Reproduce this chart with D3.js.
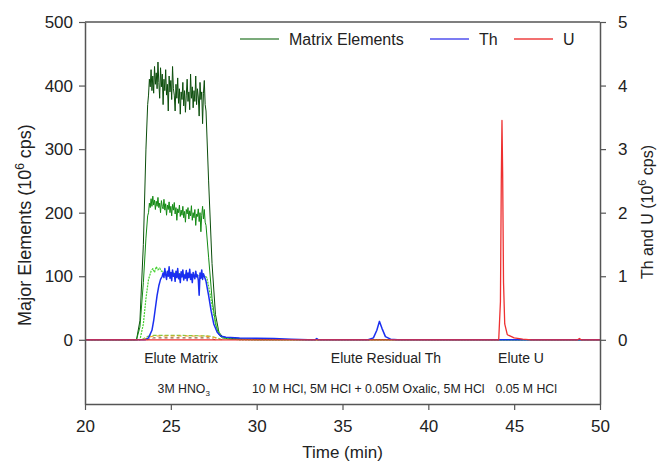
<!DOCTYPE html>
<html>
<head>
<meta charset="utf-8">
<script src="https://cdn.jsdelivr.net/npm/d3@7"></script>
<style>
  body { margin: 0; background: #fff; }
  svg { font-family: "Liberation Sans", Arial, sans-serif; }
</style>
</head>
<body>
<svg class="chart"></svg>
<script>
const width = 657,
  height = 461;

// plateau sample times (min)
const plateauTimes = [23.70, 23.75, 23.80, 23.85, 23.90, 23.95, 24.00, 24.05, 24.10, 24.15,
  24.20, 24.25, 24.30, 24.35, 24.40, 24.45, 24.50, 24.55, 24.60, 24.65, 24.70, 24.75,
  24.80, 24.85, 24.90, 24.95, 25.00, 25.05, 25.10, 25.15, 25.20, 25.25, 25.30, 25.35,
  25.40, 25.45, 25.50, 25.55, 25.60, 25.65, 25.70, 25.75, 25.80, 25.85, 25.90, 25.95,
  26.00, 26.05, 26.10, 26.15, 26.20, 26.25, 26.30, 26.35, 26.40, 26.45, 26.50, 26.55,
  26.60, 26.65, 26.70, 26.75, 26.80, 26.85, 26.90, 26.95, 27.00];

// Matrix element 1 (dark green), left axis, 10^6 cps
const matrixHighRise = [[20, 0], [23.0, 0], [23.2, 30], [23.4, 150], [23.55, 300], [23.65, 370]];
const matrixHighPlateau = [385, 410, 398, 425, 392, 415, 388, 430, 402, 420, 395, 437, 405, 380,
  428, 398, 418, 370, 410, 392, 425, 385, 402, 360, 415, 390, 408, 378, 430, 395, 385, 360,
  402, 380, 412, 372, 395, 355, 390, 378, 405, 368, 392, 358, 385, 410, 375, 390, 362, 418,
  380, 398, 365, 392, 375, 415, 370, 395, 382, 352, 405, 378, 390, 340, 388, 408, 370];
const matrixHighFall = [[27.05, 360], [27.2, 250], [27.4, 120], [27.6, 40], [27.8, 12], [28.0, 5],
  [28.5, 2], [30, 0.5], [50, 0]];

// Matrix element 2 (green)
const matrixMidRise = [[20, 0], [23.0, 0], [23.2, 20], [23.4, 90], [23.55, 160], [23.65, 195]];
const matrixMidPlateau = [200, 215, 208, 222, 210, 226, 212, 220, 205, 218, 210, 224, 208, 215,
  200, 219, 210, 206, 221, 204, 214, 196, 212, 205, 217, 200, 210, 195, 213, 204, 216, 198,
  208, 188, 206, 200, 212, 194, 204, 196, 210, 192, 202, 185, 205, 198, 208, 190, 203, 195,
  211, 188, 200, 192, 205, 180, 198, 194, 206, 186, 200, 170, 196, 210, 190, 205, 185];
const matrixMidFall = [[27.05, 180], [27.2, 130], [27.4, 65], [27.6, 25], [27.8, 8], [28.0, 3],
  [28.5, 1], [30, 0], [50, 0]];

// Matrix element 3 (light green, dotted)
const matrixLow = [[20, 0], [23.2, 0], [23.4, 25], [23.55, 65], [23.7, 95], [23.85, 108],
  [23.95, 112], [24.05, 106], [24.15, 115], [24.25, 110], [24.35, 113], [24.45, 108],
  [24.8, 106], [25.5, 104], [26.2, 102], [27.0, 100], [27.1, 98], [27.3, 70], [27.5, 40],
  [27.7, 18], [27.9, 6], [28.2, 2], [29, 0], [50, 0]];

// minor matrix traces near baseline (dashed)
const minorYellow = [[23.4, 0], [23.7, 4], [24.0, 6], [25.5, 6], [27.0, 6], [27.5, 4], [27.9, 0]];
const minorGreen = [[23.3, 0], [23.6, 5], [24.0, 7], [25.5, 7], [27.2, 6], [27.7, 3], [28.0, 0]];
const minorBrown = [[23.6, 0], [24.0, 3], [25.5, 3], [27.2, 3], [27.6, 0]];

// Th (blue), right axis, 10^6 cps
const thRise = [[20, 0], [23.5, 0], [23.7, 0.03], [23.9, 0.15], [24.0, 0.3], [24.1, 0.5],
  [24.2, 0.7], [24.3, 0.85], [24.4, 0.95], [24.5, 1.0]];
const thPlateauTimes = plateauTimes.filter(t => t > 24.5 && t < 26.99);
const thPlateau = [1.05, 0.98, 1.12, 1.02, 0.95, 1.08, 1.0, 1.15, 0.97, 1.06, 0.93, 1.1, 1.0,
  1.04, 0.92, 1.08, 0.98, 1.12, 0.96, 1.03, 0.9, 1.07, 0.99, 1.1, 0.94, 1.02, 0.97, 1.09,
  0.93, 1.05, 0.98, 1.11, 0.95, 1.03, 0.9, 1.06, 1.0, 0.96, 1.08, 0.99, 1.02, 0.94, 0.7,
  1.05, 0.97, 1.1, 0.95, 1.04, 1.0];
const thTail = [[27.05, 0.92], [27.2, 0.7], [27.35, 0.45], [27.5, 0.25], [27.7, 0.12],
  [27.9, 0.06], [28.2, 0.04], [29, 0.03], [30, 0.025], [31, 0.02], [32, 0.01], [33, 0],
  [33.4, 0], [33.5, 0.02], [33.6, 0], [36.5, 0], [36.8, 0.03], [37.0, 0.15], [37.15, 0.29],
  [37.3, 0.18], [37.5, 0.05], [37.8, 0.01], [38.2, 0], [50, 0]];

// U (red), right axis
const uTrace = [[20, 0], [44.1, 0], [44.2, 0.6], [44.25, 2.5], [44.29, 3.45], [44.33, 2.6],
  [44.38, 0.9], [44.45, 0.25], [44.6, 0.08], [45, 0.03], [45.5, 0.01], [46, 0], [48.7, 0],
  [48.8, 0.02], [48.9, 0], [50, 0]];

const xTicks = [20, 25, 30, 35, 40, 45, 50];
const leftTicks = [0, 100, 200, 300, 400, 500];
const rightTicks = [0, 1, 2, 3, 4, 5];

const legendItems = [
  { label: "Matrix Elements", color: "#4f8f4f", x: 240 },
  { label: "Th", color: "#5050ee", x: 430 },
  { label: "U", color: "#ee4040", x: 514 }
];

const stepLabels = [
  { t: 25.6, text: "Elute Matrix" },
  { t: 37.53, text: "Elute Residual Th" },
  { t: 45.4, text: "Elute U" }
];
const eluentLabels = [
  { t: 25.75, text: "3M HNO", sub: "3" },
  { t: 36.5, text: "10 M HCl, 5M HCl + 0.05M Oxalic, 5M HCl" },
  { t: 45.7, text: "0.05 M HCl" }
];

const margin = { left: 85, right: 57, top: 22, bottom: 57 };
const plotW = width - margin.left - margin.right,
  plotH = height - margin.top - margin.bottom;

let x = d3.scaleLinear().domain([20, 50]).range([margin.left, margin.left + plotW]);
let yL = d3.scaleLinear().domain([-101, 500]).range([margin.top + plotH, margin.top]);
let yR = d3.scaleLinear().domain([-1.01, 5]).range([margin.top + plotH, margin.top]);

let chart = d3.select(".chart")
  .attr("width", width)
  .attr("height", height);

const join = (rise, times, vals, fall) => rise.concat(times.map((t, i) => [t, vals[i]]), fall);

let lineL = d3.line().x(d => x(d[0])).y(d => yL(d[1]));
let lineR = d3.line().x(d => x(d[0])).y(d => yR(d[1]));

let plot = chart.append("g");
const series = [
  { data: join(matrixHighRise, plateauTimes, matrixHighPlateau, matrixHighFall), line: lineL, color: "#0b4d0b", w: 1 },
  { data: join(matrixMidRise, plateauTimes, matrixMidPlateau, matrixMidFall), line: lineL, color: "#138a13", w: 1 },
  { data: matrixLow, line: lineL, color: "#44d030", w: 1.2, dash: "2,1" },
  { data: minorGreen, line: lineL, color: "#7ac943", w: 1.2, dash: "4,2" },
  { data: minorYellow, line: lineL, color: "#f0a020", w: 1.2, dash: "4,3" },
  { data: minorBrown, line: lineL, color: "#7a3a10", w: 1, dash: "3,3" },
  { data: join(thRise, thPlateauTimes, thPlateau, thTail), line: lineR, color: "#1a2ff0", w: 1.5 },
  { data: uTrace, line: lineR, color: "#ee3030", w: 1.3 }
];
plot.selectAll("path")
  .data(series)
  .enter().append("path")
  .attr("fill", "none")
  .attr("stroke", d => d.color)
  .attr("stroke-width", d => d.w)
  .attr("stroke-dasharray", d => d.dash || null)
  .attr("stroke-linejoin", "round")
  .attr("d", d => d.line(d.data));

// frame + axes
const axisColor = "#555";
chart.append("line")
  .attr("x1", margin.left).attr("x2", margin.left + plotW)
  .attr("y1", margin.top).attr("y2", margin.top)
  .attr("stroke", axisColor).attr("stroke-width", 1.5);

function styleAxis(g) {
  g.selectAll(".domain").attr("stroke", axisColor).attr("stroke-width", 1.5);
  g.selectAll(".tick line").attr("stroke", axisColor).attr("stroke-width", 1.2);
  g.selectAll(".tick text").attr("fill", "#222").style("font-size", "17px");
}

chart.append("g")
  .attr("transform", `translate(0,${margin.top + plotH})`)
  .call(d3.axisBottom(x).tickValues(xTicks).tickSize(6).tickSizeOuter(0).tickPadding(10))
  .call(styleAxis);

chart.append("g")
  .attr("transform", `translate(${margin.left},0)`)
  .call(d3.axisLeft(yL).tickValues(leftTicks).tickSize(6).tickSizeOuter(0).tickPadding(6))
  .call(styleAxis);

chart.append("g")
  .attr("transform", `translate(${margin.left + plotW},0)`)
  .call(d3.axisRight(yR).tickValues(rightTicks).tickFormat(d3.format("d"))
    .tickSize(6).tickSizeOuter(0).tickPadding(12))
  .call(styleAxis);

// axis titles
let yTitle = chart.append("text")
  .attr("transform", `translate(31,225) rotate(-90)`)
  .attr("text-anchor", "middle")
  .attr("fill", "#222")
  .style("font-size", "18px");
yTitle.append("tspan").text("Major Elements (10");
yTitle.append("tspan").attr("dy", -7).style("font-size", "12px").text("6");
yTitle.append("tspan").attr("dy", 7).text(" cps)");

let rTitle = chart.append("text")
  .attr("transform", `translate(653,212) rotate(-90)`)
  .attr("text-anchor", "middle")
  .attr("fill", "#222")
  .style("font-size", "16px");
rTitle.append("tspan").text("Th and U (10");
rTitle.append("tspan").attr("dy", -7).style("font-size", "11px").text("6");
rTitle.append("tspan").attr("dy", 7).text(" cps)");

chart.append("text")
  .attr("x", margin.left + plotW / 2)
  .attr("y", 458)
  .attr("text-anchor", "middle")
  .attr("fill", "#222")
  .style("font-size", "17px")
  .text("Time (min)");

// legend
let legend = chart.append("g").selectAll("g")
  .data(legendItems)
  .enter().append("g");
legend.append("line")
  .attr("x1", d => d.x).attr("x2", d => d.x + 39)
  .attr("y1", 39).attr("y2", 39)
  .attr("stroke", d => d.color).attr("stroke-width", 1.5);
legend.append("text")
  .attr("x", d => d.x + 49)
  .attr("y", 45)
  .attr("fill", "#222")
  .style("font-size", "16px")
  .text(d => d.label);

// elution step annotations
chart.append("g").selectAll("text")
  .data(stepLabels)
  .enter().append("text")
  .attr("x", d => x(d.t))
  .attr("y", 363)
  .attr("text-anchor", "middle")
  .attr("fill", "#222")
  .style("font-size", "14px")
  .text(d => d.text);

let eluents = chart.append("g").selectAll("text")
  .data(eluentLabels)
  .enter().append("text")
  .attr("x", d => x(d.t))
  .attr("y", 393)
  .attr("text-anchor", "middle")
  .attr("fill", "#222")
  .style("font-size", "12.3px");
eluents.append("tspan").text(d => d.text);
eluents.filter(d => d.sub).append("tspan")
  .attr("dy", 3).style("font-size", "8px").text(d => d.sub);
</script>
</body>
</html>
